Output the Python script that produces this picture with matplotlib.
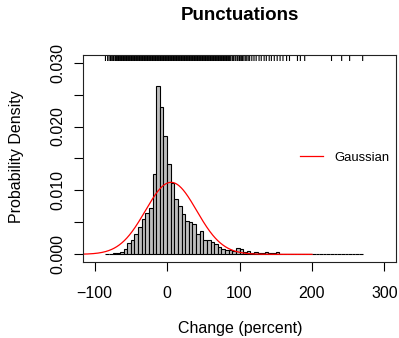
import numpy as np
import matplotlib
matplotlib.use('Agg')
import matplotlib.pyplot as plt

plt.rcParams['font.family'] = ['Liberation Sans', 'DejaVu Sans']

# histogram: left edges of 5-percent bins and their densities
bin_left = list(range(-85, 270, 5))
density = [0.0001, 0.0001, 0.0002, 0.0002, 0.0004, 0.0008, 0.0018, 0.0022,
           0.0032, 0.0043, 0.0056, 0.0065, 0.0072, 0.0126, 0.0264, 0.0230,
           0.0185, 0.0142, 0.0111, 0.0087, 0.0076, 0.0063, 0.0052, 0.0050,
           0.0048, 0.0032, 0.0036, 0.0022, 0.0022, 0.0019, 0.0016, 0.0012,
           0.0009, 0.0007, 0.0006, 0.0005, 0.0010, 0.0008, 0.0004, 0.0005,
           0.0002, 0.0003, 0.0002, 0.0002, 0.0003, 0.0002, 0.0002, 0.0003,
           0.0001, 0.0001, 0.0001, 0.0000, 0.0001, 0.0000, 0.0001, 0.0001,
           0.0000, 0.0000, 0.0000, 0.0000, 0.0000, 0.0001, 0.0000, 0.0000,
           0.0001, 0.0000, 0.0001, 0.0000, 0.0000, 0.0000, 0.0001]

# observations shown in the rug at the top
rug_x = [-85, -82, -80, -78, -77, -75, -74, -72, -71, -70, -69, -68, -67, -66, -65,
         -64, -63, -62, -61, -60, -59, -58, -57, -56, -55, -54, -53, -52, -51, -50,
         -49, -48, -47, -46, -45, -44, -43, -42, -41, -40, -39, -38, -37, -36, -35,
         -34, -33, -32, -31, -30, -29, -28, -27, -26, -25, -24, -23, -22, -21, -20,
         -19, -18, -17, -16, -15, -14, -13, -12, -11, -10, -9, -8, -7, -6, -5,
         -4, -3, -2, -1, 0, 1, 2, 3, 4, 5, 6, 7, 8, 9, 10,
         11, 12, 13, 14, 15, 16, 17, 18, 19, 20, 21, 22, 23, 24, 25,
         26, 27, 28, 29, 30, 31, 32, 33, 34, 35, 36, 37, 38, 39, 40,
         41, 42, 43, 44, 45, 46, 47, 48, 49, 50, 51, 52, 53, 54, 55,
         56, 57, 58, 59, 60, 61, 62, 63, 64, 65, 66, 67, 68, 69, 70,
         71, 72, 73, 74, 75, 76, 77, 78, 79, 80, 81, 82, 83, 84, 85, 86,
         87, 88, 90, 91, 92, 94, 95, 97, 98, 100, 101, 103, 104, 106, 108,
         110, 112, 114, 117, 120, 123, 127, 130, 134, 137, 141, 144, 148, 152,
         156, 160, 165, 169, 180, 184, 190, 227, 241, 252, 270]

gauss_mean = 5.5
gauss_sd = 35.4

fig = plt.figure(figsize=(3.99, 3.38), dpi=100)
ax = fig.add_axes([83 / 399, 1 - 262 / 338, (396 - 83) / 399, (262 - 55) / 338])

ax.bar(bin_left, density, width=5, align='edge', color='#BEBEBE',
       edgecolor='black', linewidth=0.8)

xs = np.linspace(-150, 200, 500)
ys = np.exp(-0.5 * ((xs - gauss_mean) / gauss_sd) ** 2) / (gauss_sd * np.sqrt(2 * np.pi))
ax.plot(xs, ys, color='red', linewidth=0.9, label='Gaussian')

rug = ax.vlines(rug_x, 0.971, 1.0, transform=ax.get_xaxis_transform(),
                color='black', linewidth=0.8)
rug.set_snap(False)

ax.set_xlim(-116, 316)
ax.set_ylim(-0.0012, 0.0312)

for s in ax.spines.values():
    s.set_linewidth(0.8)
    s.set_color('#222222')

ax.set_xticks([-100, 0, 100, 200, 300])
ax.set_yticks([0, 0.005, 0.010, 0.015, 0.020, 0.025, 0.030])
ax.set_yticklabels(['0.000', '', '0.010', '', '0.020', '', '0.030'],
                   rotation=90, va='center')
ax.tick_params(axis='both', direction='out', length=6.5, width=0.8,
               labelsize=11.5)
ax.tick_params(axis='x', pad=11)
ax.tick_params(axis='y', pad=6)

fig.text(240 / 399, 1 - 15 / 338, 'Punctuations', ha='center', va='center',
         fontsize=13.5, fontweight='bold')
fig.text(240 / 399, 1 - 328 / 338, 'Change (percent)', ha='center', va='center',
         fontsize=11.5)
fig.text(17 / 399, 1 - 157 / 338, 'Probability Density', ha='center', va='center',
         rotation=90, fontsize=11.5)

ax.legend(loc='center left', bbox_to_anchor=(300 / 399, 1 - 158 / 338),
          bbox_transform=fig.transFigure, frameon=False, fontsize=9.4,
          borderpad=0, borderaxespad=0, handlelength=1.75, handletextpad=0.9)

fig.savefig('out.png', dpi=100)
